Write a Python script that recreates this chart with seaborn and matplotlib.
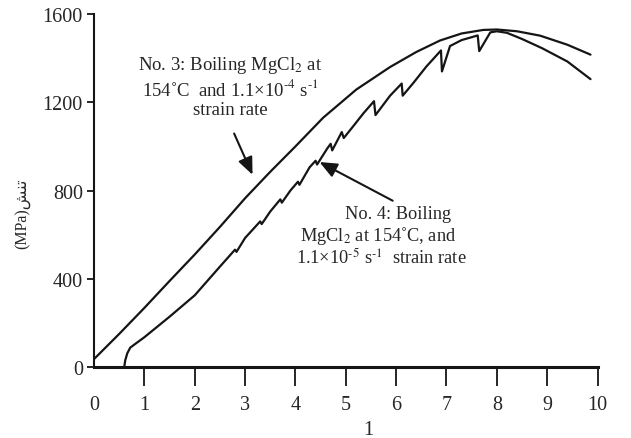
import matplotlib
matplotlib.use("Agg")
import matplotlib.pyplot as plt
import seaborn as sns
import pandas as pd

# curve No. 3 - boiling MgCl2, 1.1e-4 1/s
strain_3 = [0.0, 0.5, 1.0, 1.5, 2.0, 2.5, 3.0, 3.5, 4.0, 4.55, 5.21, 5.88, 6.4, 6.87,
            7.3, 7.73, 8.0, 8.4, 8.86, 9.4, 9.86]
stress_3 = [36, 150, 268, 390, 510, 635, 765, 885, 1000, 1130, 1258, 1360, 1428, 1480,
            1512, 1528, 1530, 1522, 1502, 1461, 1416]

# curve No. 4 - boiling MgCl2, 1.1e-5 1/s (serrated)
strain_4 = [0.60, 0.62, 0.66, 0.72, 0.85, 1.0, 1.5, 2.0, 2.5, 2.8, 2.83, 3.0, 3.3, 3.33,
            3.5, 3.7, 3.73, 3.9, 4.05, 4.08, 4.28, 4.4, 4.43, 4.63, 4.70, 4.73, 4.92, 4.96,
            5.16, 5.35, 5.56, 5.59, 5.88, 6.11, 6.13, 6.35, 6.6, 6.89, 6.91, 7.07, 7.3,
            7.62, 7.65, 7.87, 8.0, 8.2, 8.5, 8.9, 9.4, 9.86]
stress_4 = [0, 30, 62, 88, 110, 135, 228, 325, 455, 532, 522, 585, 660, 648,
            705, 760, 745, 800, 840, 826, 905, 935, 918, 990, 1012, 982, 1065, 1038,
            1095, 1150, 1205, 1142, 1230, 1285, 1230, 1290, 1362, 1435, 1340, 1455, 1482,
            1503, 1432, 1517, 1522, 1515, 1487, 1445, 1385, 1305]

xticks = list(range(0, 11))
yticks = [0, 400, 800, 1200, 1600]

sns.set_theme(style="ticks")
plt.rcParams["font.family"] = ["Liberation Serif", "DejaVu Sans"]
plt.rcParams["mathtext.fontset"] = "stix"

fig = plt.figure(figsize=(6.31, 4.39), dpi=100)
ax = fig.add_axes([0.149, 0.1617, 0.798, 0.804])

df3 = pd.DataFrame({"strain": strain_3, "stress": stress_3})
df4 = pd.DataFrame({"strain": strain_4, "stress": stress_4})
sns.lineplot(data=df3, x="strain", y="stress", color="#151515", lw=1.6,
             estimator=None, sort=False, ax=ax)
sns.lineplot(data=df4, x="strain", y="stress", color="#151515", lw=1.6,
             estimator=None, sort=False, ax=ax)

ax.set_xlim(0, 10)
ax.set_ylim(0, 1600)
ax.set_xticks(xticks)
ax.set_yticks(yticks)
ax.set_xticklabels([str(t) for t in xticks], fontsize=14.5)
ax.set_yticklabels([str(t) for t in yticks], fontsize=14.5)
ax.tick_params(axis="x", direction="out", length=14, width=1.3, pad=6, color="#151515")
ax.tick_params(axis="y", direction="out", length=5, width=1.3, pad=3, color="#151515")
ax.xaxis.get_major_ticks()[0].tick1line.set_visible(False)

for s in ["top", "right"]:
    ax.spines[s].set_visible(False)
ax.spines["left"].set_linewidth(1.5)
ax.spines["bottom"].set_linewidth(2.2)
ax.spines["left"].set_color("#151515")
ax.spines["bottom"].set_color("#151515")

ax.set_xlabel("1", fontsize=14.5)
ax.xaxis.set_label_coords(0.544, -0.15)
ax.set_ylabel("(MPa)\ufeb6\ufee8\ufe97", fontsize=11.5)
ax.yaxis.set_label_coords(-0.125, 0.438)

# annotations
ax.text(2.70, 1274, "No. 3: Boiling MgCl$_2$ at\n154˚C  and 1.1×10$^{\\text{-}4}$ s$^{\\text{-}1}$\nstrain rate",
        ha="center", va="center", fontsize=13.5, linespacing=1.15)
ax.annotate("", xy=(3.17, 860), xytext=(2.76, 1070),
            arrowprops=dict(arrowstyle="-|>,head_length=0.7,head_width=0.3",
                            color="#151515", lw=1.5, mutation_scale=15))

ax.text(6.04, 696, "No. 4: Boiling", ha="center", va="center", fontsize=13.2)
ax.text(5.64, 598, "MgCl$_2$ at 154˚C, and", ha="center", va="center", fontsize=13.2)
ax.text(5.70, 500, "1.1×10$^{\\text{-}5}$ s$^{\\text{-}1}$  strain rate", ha="center", va="center", fontsize=13.2)
ax.annotate("", xy=(4.43, 935), xytext=(5.98, 748),
            arrowprops=dict(arrowstyle="-|>,head_length=0.7,head_width=0.3",
                            color="#151515", lw=1.5, mutation_scale=15))

fig.savefig("out.png", dpi=100)
